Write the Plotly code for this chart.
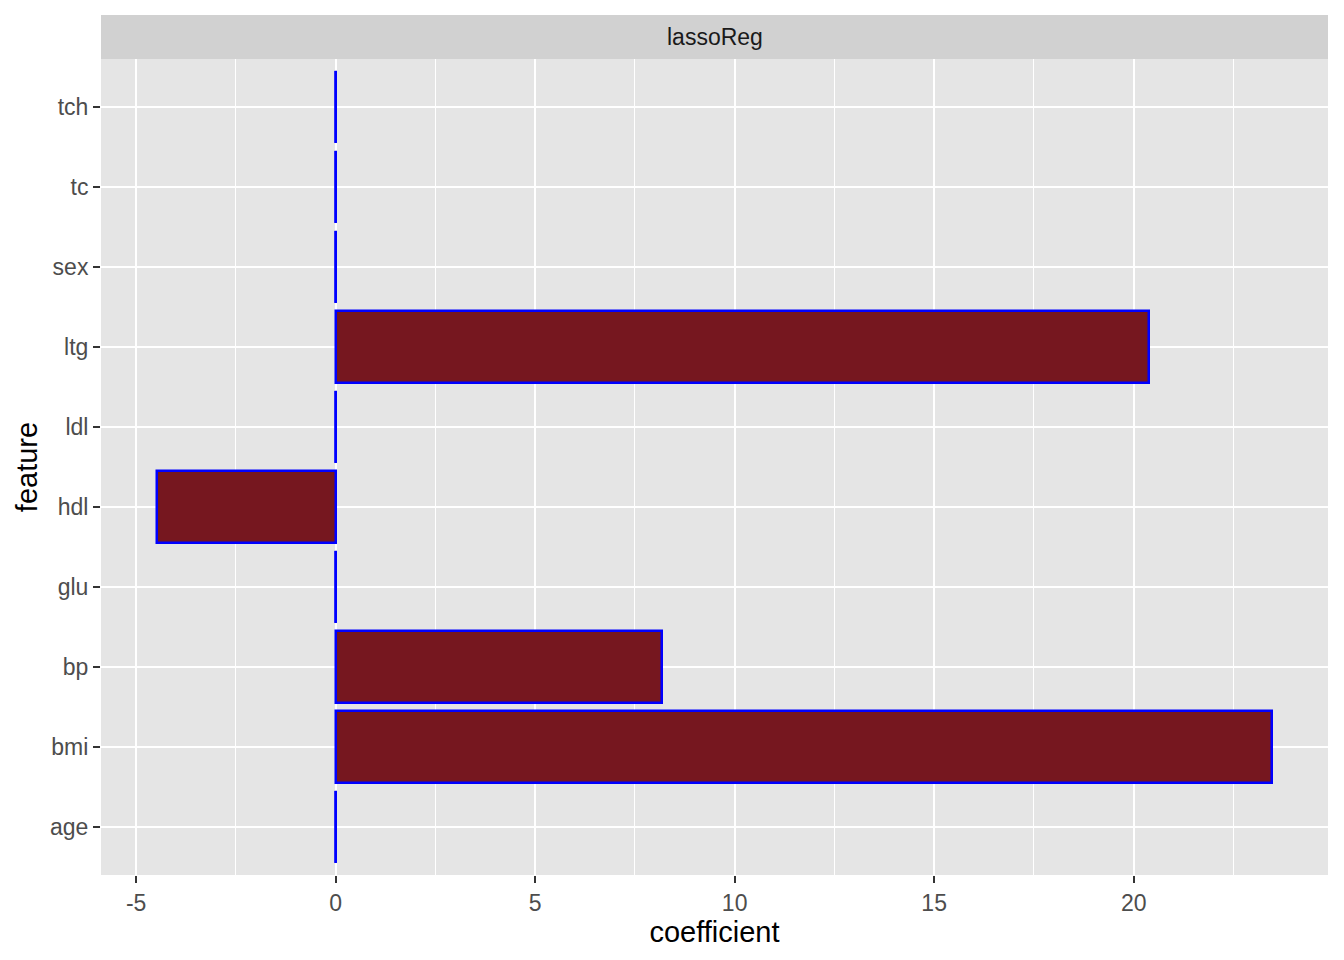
import plotly.graph_objects as go

features = ["age", "bmi", "bp", "glu", "hdl", "ldl", "ltg", "sex", "tc", "tch"]
coefficients = [0.0, 23.47, 8.19, 0.0, -4.48, 0.0, 20.39, 0.0, 0.0, 0.0]
x_ticks = [-5, 0, 5, 10, 15, 20]
x_minor = [-2.5, 2.5, 7.5, 12.5, 17.5, 22.5]
panel_title = "lassoReg"

positions = list(range(1, len(features) + 1))
half_width = 0.45

FONT = "Liberation Sans, Arial, sans-serif"

fig = go.Figure()

fig.add_trace(go.Bar(
    x=coefficients,
    y=positions,
    orientation="h",
    width=2 * half_width,
    marker=dict(color="#76171F", line=dict(color="#0000FF", width=2.5)),
    hoverinfo="x+y",
    showlegend=False,
))

# bars of zero length are not drawn by plotly, only their outline shows in ggplot
zx, zy = [], []
for p, v in zip(positions, coefficients):
    if v == 0:
        zx += [v, v, None]
        zy += [p - half_width, p + half_width, None]
fig.add_trace(go.Scatter(
    x=zx, y=zy, mode="lines",
    line=dict(color="#0000FF", width=2.5),
    hoverinfo="skip", showlegend=False,
))

# page body adds an 8px offset, so the figure is 8px smaller and shifted
panel_top = 816 / 860

fig.update_layout(
    width=1336,
    height=952,
    margin=dict(l=93, r=16, t=7, b=85),
    paper_bgcolor="white",
    plot_bgcolor="#E5E5E5",
    font=dict(family=FONT, color="#4D4D4D"),
    bargap=0,
    shapes=[dict(
        type="rect", xref="paper", yref="paper",
        x0=0, x1=1, y0=panel_top, y1=1,
        fillcolor="#D1D1D1", line=dict(width=0), layer="below",
    )],
    annotations=[dict(
        text=panel_title, xref="paper", yref="paper",
        x=0.5, y=(panel_top + 1) / 2, showarrow=False,
        font=dict(family=FONT, size=23, color="#1A1A1A"),
        xanchor="center", yanchor="middle",
    )],
)

fig.update_xaxes(
    automargin=False,
    range=[-5.88, 24.87],
    tickvals=x_ticks,
    ticktext=[str(t) for t in x_ticks],
    ticks="outside", ticklen=7, tickwidth=2, tickcolor="#333333",
    tickfont=dict(family=FONT, size=23, color="#4D4D4D"),
    showgrid=True, gridcolor="white", gridwidth=2.2,
    minor=dict(tickvals=x_minor,
               showgrid=True, gridcolor="white", gridwidth=1.1, ticks=""),
    zeroline=False, showline=False,
    title=dict(text="coefficient", standoff=2,
               font=dict(family=FONT, size=29, color="black")),
)

fig.update_yaxes(
    automargin=False,
    domain=[0, panel_top],
    range=[0.4, len(features) + 0.6],
    tickvals=positions,
    ticktext=features,
    ticks="outside", ticklen=7, tickwidth=2, tickcolor="#333333",
    tickfont=dict(family=FONT, size=23, color="#4D4D4D"),
    showgrid=True, gridcolor="white", gridwidth=2.2,
    zeroline=False, showline=False,
    title=dict(text="feature", standoff=3,
               font=dict(family=FONT, size=29, color="black")),
)

fig.write_html("out.html")
